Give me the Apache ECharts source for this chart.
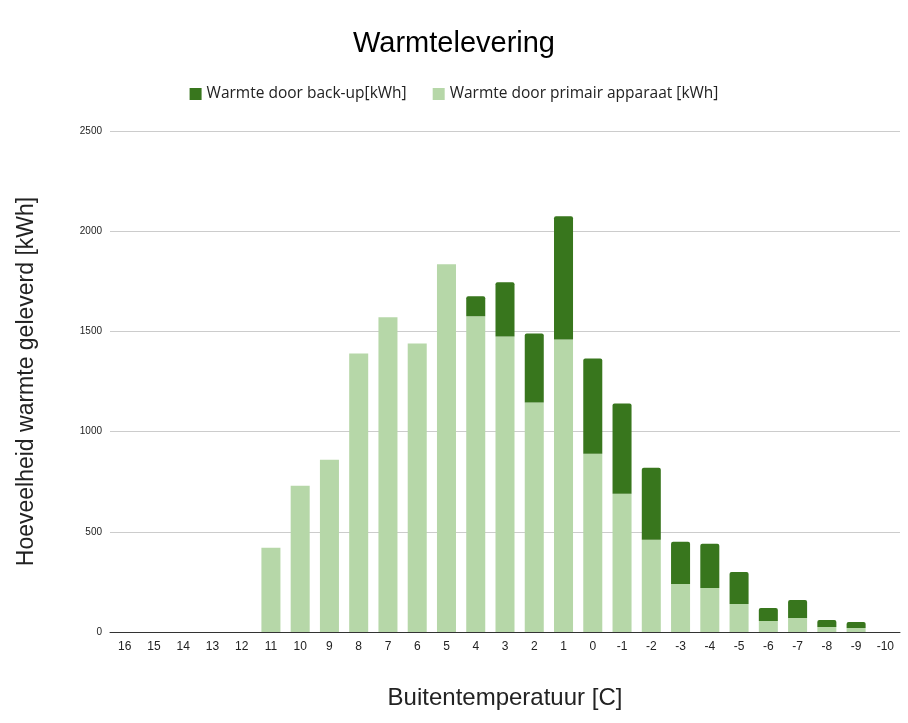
<!DOCTYPE html>
<html>
<head>
<meta charset="utf-8">
<script src="https://cdn.jsdelivr.net/npm/echarts@6/dist/echarts.min.js"></script>
<style>
  html, body { margin: 0; padding: 0; background: #fff; }
  #chart { width: 908px; height: 723px; }
</style>
</head>
<body>
<div id="chart"></div>
<script>
const categories = ['16', '15', '14', '13', '12', '11', '10', '9', '8', '7', '6', '5', '4', '3', '2', '1', '0', '-1', '-2', '-3', '-4', '-5', '-6', '-7', '-8', '-9', '-10']
const primair = [0, 0, 0, 0, 0, 420, 730, 860, 1390, 1570, 1440, 1835, 1575, 1475, 1145, 1460, 890, 690, 460, 240, 220, 140, 55, 70, 25, 20, 0]
const backup = [0, 0, 0, 0, 0, 0, 0, 0, 0, 0, 0, 0, 100, 270, 345, 615, 475, 450, 360, 210, 220, 160, 65, 90, 35, 30, 0]
const yTicks = [0, 500, 1000, 1500, 2000, 2500]

const chart = echarts.init(document.getElementById('chart'))

chart.setOption({
  animation: false,
  title: {
    text: 'Warmtelevering',
    left: 'center',
    top: 24,
    textStyle: { fontFamily: 'Liberation Sans', fontSize: 29, fontWeight: 'normal', color: '#000' },
  },
  legend: {
    top: 81,
    left: 'center',
    itemWidth: 12,
    itemHeight: 12,
    itemGap: 26,
    icon: 'rect',
    textStyle: { fontFamily: 'Open Sans', fontSize: 15.5, color: '#222' },
    data: ['Warmte door back-up[kWh]', 'Warmte door primair apparaat [kWh]'],
  },
  grid: { left: 110, right: 8, top: 131, bottom: 91 },
  xAxis: {
    type: 'category',
    data: categories,
    name: 'Buitentemperatuur [C]',
    nameLocation: 'middle',
    nameGap: 54,
    nameTextStyle: { fontFamily: 'Liberation Sans', fontSize: 24, color: '#222' },
    axisTick: { show: false },
    axisLine: { lineStyle: { color: '#333', width: 1 } },
    axisLabel: { fontFamily: 'Liberation Sans', fontSize: 12, color: '#222', margin: 9, interval: 0 },
  },
  yAxis: {
    type: 'value',
    min: yTicks[0],
    max: yTicks[yTicks.length - 1],
    interval: 500,
    name: 'Hoeveelheid warmte geleverd [kWh]',
    nameLocation: 'middle',
    nameGap: 72,
    nameTextStyle: { fontFamily: 'Liberation Sans', fontSize: 23, color: '#222' },
    axisLine: { show: false },
    axisTick: { show: false },
    axisLabel: {
      fontFamily: 'Liberation Sans', fontSize: 10, color: '#222', margin: 8,
      formatter: (v) => String(v),
    },
    splitLine: { lineStyle: { color: '#ccc' } },
  },
  series: [
    {
      name: 'Warmte door primair apparaat [kWh]',
      type: 'bar',
      stack: 'total',
      data: primair,
      barCategoryGap: '35%',
      itemStyle: { color: '#b6d7a8' },
    },
    {
      name: 'Warmte door back-up[kWh]',
      type: 'bar',
      stack: 'total',
      data: backup,
      barCategoryGap: '35%',
      itemStyle: { color: '#38761d', borderRadius: [2, 2, 0, 0] },
    },
  ],
})
</script>
</body>
</html>
